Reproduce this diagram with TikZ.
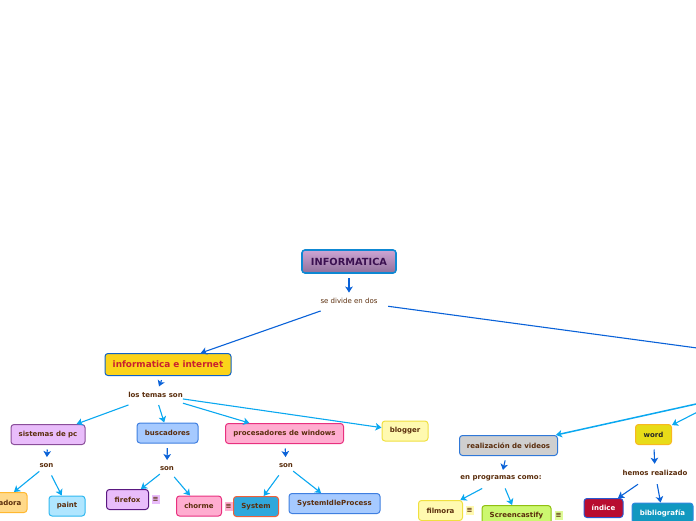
\documentclass[tikz,border=0pt]{standalone}
\usepackage{fontspec}
\setmainfont{DejaVu Sans}
\usetikzlibrary{arrows.meta}
\definecolor{txt}{HTML}{5A2D0C}
\definecolor{dkarrow}{HTML}{0A62D8}
\definecolor{ltarrow}{HTML}{0AA8F0}
\definecolor{cPurple}{HTML}{E9BDFB}
\definecolor{cBlue}{HTML}{A6CAFF}
\definecolor{cPink}{HTML}{FFADD0}
\definecolor{cYel}{HTML}{FFF9B0}
\definecolor{bPink}{HTML}{E8307F}
\definecolor{bYel}{HTML}{F0E040}
\definecolor{bBlue}{HTML}{3F7FE0}
\tikzset{
  x=1pt,y=-1pt,
  boxn/.style={rectangle,rounded corners=3pt,line width=1pt,inner sep=0pt,text=txt,font=\bfseries\fontsize{7}{8}\selectfont},
  lab/.style={inner xsep=7pt,inner sep=0pt,minimum height=19.5pt,text=txt,font=\bfseries\fontsize{7}{8}\selectfont},
  dk/.style={draw=dkarrow,line width=1.1pt,-{Stealth[length=6pt,width=7.5pt,inset=1.5pt]}},
  lt/.style={draw=ltarrow,line width=1.1pt,-{Stealth[length=6pt,width=7.5pt,inset=1.5pt]}},
  gap/.style={shorten <=4.5pt,shorten >=-1.5pt},
  note/.style={inner sep=0pt,minimum width=8pt,minimum height=9pt,text=txt,font=\bfseries\fontsize{7}{7}\selectfont},
}
\begin{document}
\begin{tikzpicture}
\useasboundingbox (0,0) rectangle (696,520);
\clip (0,0) rectangle (696,520);
% root
\node[boxn,minimum width=94pt,minimum height=23pt,draw=cyan!70!blue,line width=1.6pt,top color={rgb,255:red,205;green,165;blue,212},bottom color={rgb,255:red,145;green,112;blue,155},text={rgb,255:red,58;green,16;blue,80},font=\bfseries\fontsize{9.8}{11}\selectfont] (root) at (349,261.5) {INFORMATICA};
\node[lab,font=\fontsize{7}{8}\selectfont,inner xsep=10.5pt] (sed) at (349,301) {se divide en dos};
\coordinate (off) at (760,356.5);
\coordinate (offlab) at (726,397.4);
% left branch
\node[boxn,fill={rgb,255:red,251;green,211;blue,26},draw={rgb,255:red,15;green,98;blue,200},minimum width=126pt,minimum height=22pt,text={rgb,255:red,200;green,32;blue,46},font=\bfseries\fontsize{8.9}{10}\selectfont] (ii) at (168,364.5) {informatica e internet};
\node[lab] (temas) at (155.5,395) {los temas son};
\node[boxn,fill=cPurple,draw={rgb,255:red,138;green,78;blue,154},minimum width=74pt,minimum height=20pt] (sis) at (48,434.5) {sistemas de pc};
\node[boxn,fill=cBlue,draw=bBlue,minimum width=61pt,minimum height=20pt] (bus) at (167.5,433) {buscadores};
\node[boxn,fill=cPink,draw=bPink,minimum width=118pt,minimum height=20pt] (pro) at (284.5,433.5) {procesadores de windows};
\node[boxn,fill=cYel,draw=bYel,minimum width=46pt,minimum height=20pt] (blo) at (405,431) {blogger};
\node[lab] (son1) at (46.5,465.5) {son};
\node[lab] (son2) at (167,468.5) {son};
\node[lab] (son3) at (286,465.5) {son};
\node[boxn,fill={rgb,255:red,255;green,217;blue,138},draw={rgb,255:red,255;green,184;blue,48},minimum width=52pt,minimum height=20pt] (ado) at (1,502.5) {\phantom{xxxx}adora};
\node[boxn,fill={rgb,255:red,176;green,230;blue,255},draw={rgb,255:red,48;green,184;blue,240},minimum width=36pt,minimum height=20pt] (pai) at (67,506) {paint};
\node[boxn,fill=cPurple,draw={rgb,255:red,90;green,24;blue,128},minimum width=42pt,minimum height=20pt] (fir) at (127.5,499.5) {firefox};
\node[note,fill=cPurple] (nf) at (155.5,499.5) {≡};
\node[boxn,fill=cPink,draw=bPink,minimum width=45pt,minimum height=20pt] (cho) at (199,506) {chorme};
\node[note,fill=cPink] (nc) at (228.5,506) {≡};
\node[boxn,fill={rgb,255:red,48;green,168;blue,220},draw={rgb,255:red,240;green,96;blue,58},minimum width=45pt,minimum height=20pt] (sys) at (256,506.5) {System};
\node[boxn,fill=cBlue,draw=bBlue,minimum width=91pt,minimum height=20pt] (idle) at (334.5,503.5) {SystemIdleProcess};
% right branch
\node[boxn,fill=black!19,draw={rgb,255:red,47;green,120;blue,216},minimum width=98pt,minimum height=20pt] (rea) at (508.5,445.5) {realización de videos};
\node[lab] (pro2) at (501,478.5) {en programas como:};
\node[boxn,fill=cYel,draw=bYel,minimum width=44pt,minimum height=20pt] (fil) at (440.5,510.5) {filmora};
\node[note,fill=cYel] (nfi) at (469.5,510.5) {≡};
\node[boxn,fill={rgb,255:red,204;green,248;blue,112},draw={rgb,255:red,144;green,192;blue,16},minimum width=69pt,minimum height=20pt] (scr) at (516.5,515.5) {Screencastify};
\node[note,fill={rgb,255:red,222;green,250;blue,150}] (nsc) at (558.5,515.5) {≡};
\node[boxn,fill={rgb,255:red,232;green,220;blue,24},draw={rgb,255:red,248;green,184;blue,32},minimum width=36pt,minimum height=20pt,text=black!85] (wor) at (653.5,434.5) {word};
\node[lab,minimum height=23pt] (hem) at (655,472.5) {hemos realizado};
\node[boxn,fill={rgb,255:red,184;green,12;blue,48},draw={rgb,255:red,40;green,88;blue,208},minimum width=39pt,minimum height=19pt,text=white] (ind) at (603.5,508) {índice};
\node[boxn,fill={rgb,255:red,17;green,152;blue,192},draw={rgb,255:red,48;green,136;blue,224},minimum width=61pt,minimum height=20pt,text=white] (bib) at (662.5,513) {bibliografía};
% connectors
\draw[dk,gap] (root) -- (sed);
\draw[dk] (sed) -- (ii);
\draw[dk] (sed) -- (off);
\draw[dk,gap] (ii) -- (temas);
\draw[lt] (temas) -- (sis);
\draw[lt] (temas) -- (bus);
\draw[lt] (temas) -- (pro);
\draw[lt] (temas) -- (blo);
\draw[dk,gap] (sis) -- (son1);
\draw[dk,gap] (bus) -- (son2);
\draw[dk,gap] (pro) -- (son3);
\draw[lt] (son1) -- (ado);
\draw[lt] (son1) -- (pai);
\draw[lt] (son2) -- (fir);
\draw[lt] (son2) -- (cho);
\draw[lt] (son3) -- (sys);
\draw[lt] (son3) -- (idle);
\draw[lt,line width=1.5pt] (offlab) -- (rea);
\draw[lt] (offlab) -- (wor);
\draw[dk,gap] (rea) -- (pro2);
\draw[lt] (pro2) -- (fil);
\draw[lt] (pro2) -- (scr);
\draw[dk,shorten <=4.5pt,shorten >=-3pt] (wor) -- (hem);
\draw[dk] (hem) -- (ind);
\draw[dk] (hem) -- (bib);
\end{tikzpicture}
\end{document}
